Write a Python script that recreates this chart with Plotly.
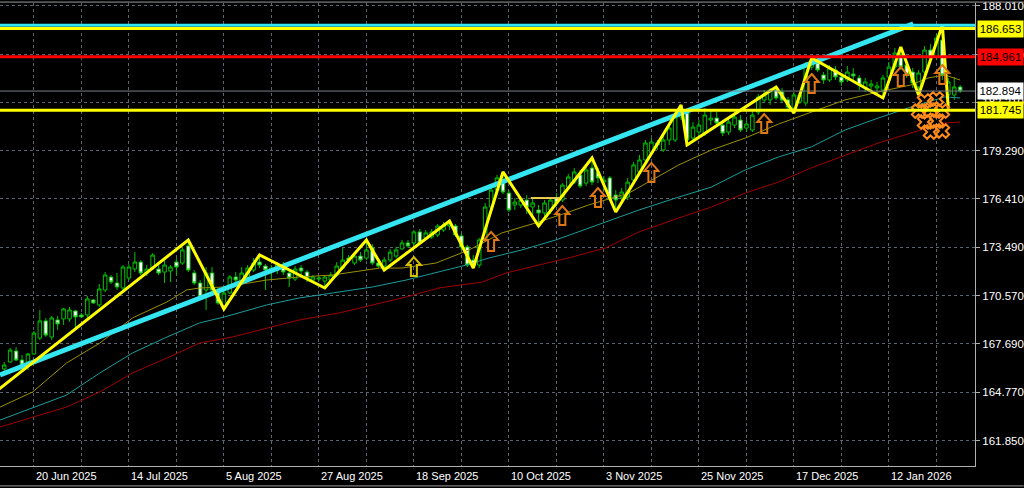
import plotly.graph_objects as go
import pandas as pd

# ---------------- data ----------------
dates = [d for d in pd.bdate_range("2025-06-13", "2026-01-28")
         if d.strftime("%m-%d") not in ("12-25", "01-01")]

open_ = [166.18,166.60,167.26,166.72,166.60,167.08,168.04,169.07,168.10,169.13,
         169.19,169.19,169.67,169.43,169.43,170.33,170.03,170.93,171.71,171.35,
         171.05,171.65,172.19,172.61,171.95,172.25,172.19,172.01,172.07,172.61,
         172.55,173.58,171.95,171.35,170.93,171.95,170.81,169.91,170.75,171.71,
         171.41,171.71,172.13,172.61,172.37,172.13,172.13,172.37,171.95,171.59,
         172.25,172.01,171.53,171.59,171.47,171.53,171.83,172.25,172.85,172.55,
         172.97,172.85,173.46,172.55,172.37,172.73,172.97,173.40,173.76,173.76,
         174.42,174.06,174.12,174.24,174.54,174.78,174.78,174.18,173.52,172.73,
         172.43,173.94,175.92,176.94,177.42,176.76,176.04,176.04,176.34,175.92,
         175.74,175.56,175.74,176.46,176.34,177.12,177.42,177.85,177.36,178.27,
         178.03,177.42,177.67,176.64,176.52,176.52,177.54,178.03,178.75,179.17,
         179.77,179.35,179.95,179.95,181.33,181.57,180.07,180.43,180.37,181.15,
         181.27,180.85,180.43,180.85,181.15,180.67,180.55,181.63,182.36,182.36,
         182.96,182.84,182.36,181.87,182.24,182.18,184.34,184.58,183.86,183.56,
         184.16,183.74,183.56,183.92,183.68,183.08,183.20,183.08,182.96,183.74,
         184.34,185.06,184.46,184.04,183.14,184.04,185.36,184.94,185.96,182.66,
         182.66,183.14]
high = [166.60,167.44,167.50,167.02,167.14,168.46,169.73,169.25,169.37,169.37,
        169.85,169.91,169.73,169.55,170.57,170.39,171.29,172.01,171.83,171.95,
        172.43,172.49,173.21,172.73,172.43,173.15,172.61,172.91,172.43,172.85,
        173.46,173.94,172.13,171.53,172.31,172.31,171.05,170.93,171.83,172.01,
        172.31,172.43,172.85,173.03,172.49,172.43,172.61,172.61,172.13,172.37,
        172.43,172.13,171.83,171.77,171.83,172.01,172.61,173.46,173.03,173.15,
        173.21,173.94,173.70,172.85,172.91,173.40,173.52,173.94,173.94,174.54,
        174.60,174.54,174.60,174.90,175.02,175.08,174.90,174.36,173.64,173.03,
        174.06,176.16,177.18,177.85,178.03,176.94,176.46,176.52,176.64,176.40,
        176.04,176.34,176.46,176.76,177.36,177.91,178.27,178.15,178.39,178.87,
        178.27,177.79,177.79,176.94,177.06,177.67,178.63,179.05,179.95,180.07,
        179.95,180.19,180.91,181.63,182.06,181.75,181.03,181.15,181.87,181.75,
        181.63,181.15,181.27,181.63,181.45,181.15,181.75,182.72,182.96,183.08,
        183.14,183.08,182.54,182.84,182.84,184.64,184.88,184.88,184.04,184.46,
        184.40,183.92,184.40,184.28,183.86,183.68,183.56,183.44,183.86,184.64,
        185.48,185.54,184.76,184.28,184.16,185.60,185.72,186.33,186.87,183.68,
        183.74,183.26]
low = [165.88,166.54,166.66,166.30,166.12,167.02,167.92,168.10,167.92,168.53,
       168.83,169.01,168.53,169.25,169.25,170.09,169.91,170.81,171.29,170.93,
       170.81,171.53,172.01,171.83,171.77,172.13,171.83,171.35,171.41,171.83,
       172.43,172.01,171.23,170.39,169.73,170.75,170.03,169.79,170.69,171.35,
       171.35,171.65,172.01,172.25,170.93,171.53,171.89,171.83,171.11,171.47,
       171.83,171.41,171.41,171.47,171.05,171.41,171.71,172.13,172.55,172.43,
       172.61,172.73,172.43,172.25,172.13,172.61,172.85,173.34,173.46,173.64,
       173.64,173.94,174.00,174.12,174.42,174.54,174.12,173.34,172.31,172.25,
       172.25,173.82,175.74,176.76,176.70,175.62,175.74,175.86,175.50,175.26,
       174.78,175.26,175.50,175.98,176.22,177.00,177.30,177.06,177.18,177.24,
       177.36,176.94,176.34,175.62,176.34,176.34,177.42,177.85,178.57,179.05,
       179.35,179.23,179.65,179.83,181.15,179.65,179.83,180.25,180.19,180.85,
       180.79,180.19,180.25,180.67,180.43,180.43,180.43,181.45,182.18,182.06,
       182.36,182.18,181.75,181.57,182.12,181.99,184.16,184.04,183.32,183.44,
       183.56,183.20,183.44,183.56,182.96,182.84,182.96,182.72,182.48,183.56,
       184.16,184.16,183.68,183.08,182.66,183.86,184.64,184.76,183.56,181.87,
       182.36,182.78]
close = [166.42,167.32,166.72,166.42,167.08,168.34,169.07,168.22,169.25,168.89,
         169.79,169.73,169.31,169.31,170.39,170.15,170.99,171.83,171.41,171.11,
         172.31,172.31,172.61,171.95,172.19,173.03,171.95,172.43,172.31,172.31,
         173.34,172.13,171.35,170.51,171.95,170.93,170.15,170.75,171.71,171.53,
         171.95,172.25,172.55,172.43,172.13,172.25,172.43,172.01,171.65,172.19,
         172.07,171.65,171.71,171.65,171.71,171.83,172.37,172.73,172.73,172.97,
         172.73,173.34,172.55,172.37,172.73,173.21,173.34,173.76,173.58,174.42,
         173.76,174.36,174.42,174.78,174.84,174.90,174.24,173.52,172.43,172.37,
         173.94,175.92,176.94,177.67,176.82,175.74,176.22,176.34,175.92,176.16,
         175.56,176.16,176.34,176.16,177.24,177.73,178.03,177.18,178.15,177.42,
         177.67,177.54,176.46,176.34,176.82,177.42,178.45,178.75,179.77,179.83,
         179.65,179.95,180.67,181.33,181.63,179.95,180.73,180.85,181.45,181.27,
         180.97,180.37,181.03,181.33,180.55,180.91,181.45,182.54,182.66,182.96,
         182.48,182.36,181.93,182.66,182.66,184.46,184.76,184.16,183.56,184.28,
         183.74,183.44,184.04,183.80,183.26,183.44,183.32,183.20,183.68,184.34,
         185.18,184.34,183.86,183.38,183.98,185.36,184.88,186.08,183.86,183.44,
         183.14,182.90]

# moving averages (read at sample bars)
ma_fast_idx = [-0.7,4.8,10.5,16.1,21.6,27.4,30.7,32.9,37.1,44.2,49.7,55.3,63.2,67,72.7,78.3,
               83.8,89.5,95.1,98.4,105.2,113.6,119.1,124.8,130.4,135.9,141.6,147.2,152.7,155.6,158.4,161]
ma_fast = [163.89,164.80,166.54,167.74,169.25,170.21,170.93,171.05,171.11,171.53,171.71,171.83,
           172.25,172.25,172.55,173.34,174.36,174.96,175.62,176.04,176.76,178.45,179.35,180.07,
           180.91,181.63,182.36,182.84,183.26,183.68,183.86,183.56]
ma_mid_idx = [-0.7,4.8,10.5,16.1,21.6,27.4,32.9,37.1,44.2,49.7,56.4,62,67.7,73.2,77.8,81.6,87.2,
              92.9,99,106.9,113.6,119.1,124.8,130.4,135.9,141.6,147.2,152.7,158.4,161]
ma_mid = [163.11,163.83,164.61,165.94,167.14,168.10,168.95,169.31,170.03,170.45,170.81,171.11,
          171.53,172.01,172.43,172.85,173.34,173.94,174.72,175.74,176.52,177.12,178.15,178.93,
          179.53,180.55,181.27,181.93,182.54,182.48]
ma_slow_idx = [-0.7,4.8,10.5,16.1,21.6,27.4,32.9,38.4,44.2,49.7,56.4,62,67.7,73.2,80.5,84.5,90,
               95.6,101.3,106.9,113.6,119.1,124.8,130.4,135.9,141.6,147.2,152.7,158.4,161]
ma_slow = [162.69,163.29,163.89,164.80,165.94,166.84,167.74,168.10,168.64,169.13,169.55,170.03,
           170.51,171.05,171.41,171.95,172.43,172.91,173.46,174.42,175.26,175.92,176.76,177.42,
           178.27,179.05,179.77,180.37,180.97,181.03]

zigzag_idx = [-1,31,37,43,54,61,64,75,79,84,90,99,103,114,115,130,133,136,148,151,154,158,159]
zigzag_px = [164.93,173.94,169.79,173.04,171.05,173.94,172.13,175.08,172.25,178.03,174.78,178.87,
             175.62,182.06,179.65,183.14,181.57,184.88,182.48,185.54,182.66,186.87,181.87]

trend_idx = [-0.71, 153.1]
trend_px = [165.82, 186.93]

level_cyan = 186.85
level_top = 186.653
level_red = 184.961
last_price = 182.894
level_low = 181.745

flat_idx = [88.7, 93.6]
flat_px = [176.46, 176.46]

arrow_idx = [69, 82, 94, 100, 109, 128, 136, 151, 158]
arrow_px = [172.91, 174.42, 175.98, 177.06, 178.57, 181.51, 183.92, 184.34, 184.46]
arrow_col = ["#d8c000"] + ["#e07818"] * 8

cross_idx = [155, 157, 154, 156, 158, 155, 157, 156, 158]
cross_px = [182.30, 182.42, 181.69, 181.75, 181.69, 181.03, 181.09, 180.43, 180.49]

ytick_vals = [188.010, 185.090, 182.210, 179.290, 176.410, 173.490, 170.570, 167.690, 164.770, 161.850]
label_idx = [5, 21, 37, 53, 69, 85, 101, 117, 133, 149]

# ---------------- figure ----------------
x = list(range(len(close)))
FONT = "Liberation Sans, Arial, sans-serif"
GREEN = "#00c000"

fig = go.Figure()
fig.add_trace(go.Scatter(x=ma_slow_idx, y=ma_slow, mode="lines",
                         line=dict(color="#a00000", width=1), hoverinfo="skip"))
fig.add_trace(go.Scatter(x=ma_mid_idx, y=ma_mid, mode="lines",
                         line=dict(color="#1a9c9c", width=1), hoverinfo="skip"))
fig.add_trace(go.Scatter(x=ma_fast_idx, y=ma_fast, mode="lines",
                         line=dict(color="#9a9000", width=1), hoverinfo="skip"))
fig.add_trace(go.Candlestick(
    x=x, open=open_, high=high, low=low, close=close,
    increasing=dict(line=dict(color=GREEN, width=1), fillcolor="#000000"),
    decreasing=dict(line=dict(color=GREEN, width=1), fillcolor="#ffffff"),
    whiskerwidth=0, hoverinfo="skip"))
fig.add_trace(go.Scatter(x=trend_idx, y=trend_px, mode="lines",
                         line=dict(color="#33e6f2", width=5), hoverinfo="skip"))
fig.add_trace(go.Scatter(x=zigzag_idx, y=zigzag_px, mode="lines",
                         line=dict(color="#ffff00", width=3), hoverinfo="skip"))
fig.add_trace(go.Scatter(x=flat_idx, y=flat_px, mode="lines",
                         line=dict(color="#f0d050", width=2), hoverinfo="skip"))
fig.add_trace(go.Scatter(x=cross_idx, y=cross_px, mode="markers",
                         marker=dict(symbol="x-open", size=12, color="#ff8c1a",
                                     line=dict(color="#ff8c1a", width=2)),
                         hoverinfo="skip"))

shapes = []
for lvl, col, w in [(level_cyan, "#33e6f2", 3), (level_top, "#ffff00", 3),
                    (level_red, "#ff0000", 3), (last_price, "#7a8088", 1),
                    (level_low, "#ffff00", 3)]:
    shapes.append(dict(type="line", xref="paper", x0=0, x1=1, yref="y", y0=lvl, y1=lvl,
                       line=dict(color=col, width=w), layer="above"))

arrow_path = "M0,0 L7,-8 L3,-8 L3,-19 L-3,-19 L-3,-8 L-7,-8 Z"
for ai, ap, ac in zip(arrow_idx, arrow_px, arrow_col):
    shapes.append(dict(type="path", xref="x", yref="y", xsizemode="pixel", ysizemode="pixel",
                       xanchor=ai, yanchor=ap, path=arrow_path,
                       line=dict(color=ac, width=2), fillcolor="rgba(0,0,0,0)", layer="above"))

# window frame lines
shapes.append(dict(type="line", xref="paper", yref="paper", x0=0, x1=1.05, y0=1.002, y1=1.002,
                   line=dict(color="#9a9a9a", width=1)))
shapes.append(dict(type="line", xref="paper", yref="paper", x0=0, x1=1.05, y0=-0.043, y1=-0.043,
                   line=dict(color="#9a9a9a", width=1)))

annotations = []
for li in label_idx:
    d = dates[li]
    annotations.append(dict(x=li, y=0, xref="x", yref="paper", xanchor="left", yanchor="top",
                            yshift=-2, text=f"{d.day} {d.strftime('%b %Y')}", showarrow=False,
                            font=dict(family=FONT, size=11, color="#ffffff")))

for lvl, bg, fg in [(level_top, "#ffff00", "#000000"), (level_red, "#ff0000", "#000000"),
                    (last_price, "#ffffff", "#000000"), (level_low, "#ffff00", "#000000")]:
    annotations.append(dict(x=1, y=lvl, xref="paper", yref="y", xanchor="left", yanchor="middle",
                            xshift=2, text=f"{lvl:.3f}", showarrow=False, bgcolor=bg,
                            borderpad=2, width=41,
                            font=dict(family=FONT, size=11.5, color=fg)))

fig.update_layout(
    width=1024, height=488,
    margin=dict(l=0, r=47, t=3, b=22),
    paper_bgcolor="#000000", plot_bgcolor="#000000",
    showlegend=False,
    shapes=shapes, annotations=annotations,
    font=dict(family=FONT, size=11, color="#ffffff"),
    boxgap=0.15,
    xaxis=dict(range=[-0.71, 163.5], tickvals=[5 + 8 * k for k in range(20)],
               showticklabels=False, showgrid=True, gridcolor="#5c6670", griddash="dot",
               gridwidth=1, zeroline=False, showline=True, linecolor="#b0b0b0",
               rangeslider=dict(visible=False), fixedrange=True),
    yaxis=dict(range=[160.345, 188.19], side="right", tickvals=ytick_vals,
               ticktext=[f"{v:.3f}" for v in ytick_vals], ticks="outside", ticklen=4,
               tickcolor="#b0b0b0", showgrid=True, gridcolor="#5c6670", griddash="dot",
               gridwidth=1, zeroline=False, showline=True, linecolor="#b0b0b0",
               tickfont=dict(family=FONT, size=11.5, color="#ffffff"), fixedrange=True),
)

fig.write_html("out.html", config={"displayModeBar": False},
               post_script="document.body.style.margin='0';")
